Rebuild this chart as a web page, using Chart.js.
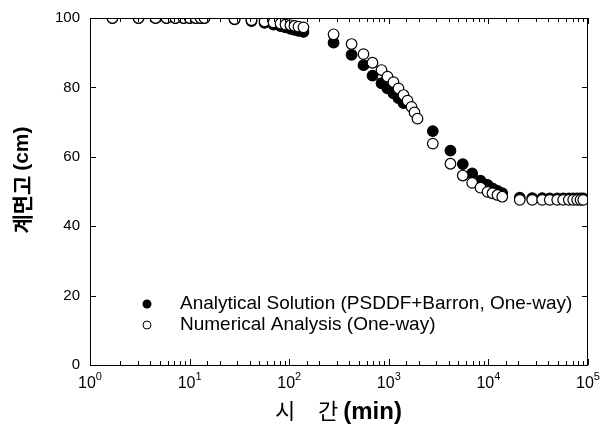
<!DOCTYPE html>
<html>
<head>
<meta charset="utf-8">
<script src="https://cdn.jsdelivr.net/npm/chart.js@4"></script>
<style>
  body { margin: 0; background: #fff; }
  #wrap { width: 601px; height: 439px; }
</style>
</head>
<body>
<div id="wrap"><canvas id="chart" width="601" height="439"></canvas></div>
<script>
// time in minutes, interface height in cm
const analyticalTime = [1.68, 3.07, 4.55, 5.86, 7.2, 8.7, 10, 11.5, 12.9, 14.1,
  28.3, 41.8, 56.6, 69.5, 81.8, 91.8, 103, 113, 124, 139,
  279, 423, 557, 686, 845, 970, 1114, 1251, 1405,
  2766, 4159, 5530, 6873, 8330, 9800, 11000, 12340, 13770,
  20650, 27540, 34670, 41300, 49090, 56360, 64140, 71000, 77850, 84100, 89500];
const analyticalHeight = [100, 100, 100, 100, 100, 100, 100, 100, 100, 100,
  99.6, 99.1, 98.6, 98.1, 97.7, 97.3, 96.9, 96.6, 96.3, 96.0,
  92.9, 89.4, 86.4, 83.4, 81.2, 79.7, 78.3, 76.9, 75.5,
  67.4, 61.8, 57.9, 55.2, 53.1, 51.9, 50.9, 50.2, 49.5,
  48.2, 48.1, 48.1, 48.0, 48.0, 48.0, 48.0, 48.0, 48.0, 48.0, 48.0];

const numericalTime = [1.68, 3.07, 4.55, 5.86, 7.2, 8.7, 10, 11.5, 12.9, 14.1,
  28.3, 41.8, 56.6, 69.5, 81.8, 91.8, 103, 113, 124, 139,
  279, 423, 557, 686, 845, 970, 1114, 1251, 1405, 1541, 1690, 1812, 1942,
  2766, 4159, 5530, 6873, 8330, 9800, 11000, 12340, 13770,
  20650, 27540, 34670, 41300, 49090, 56360, 64140, 71000, 77850, 84100, 89500];
const numericalHeight = [100, 100, 100, 100, 100, 100, 100, 100, 100, 100,
  99.7, 99.4, 99.0, 98.7, 98.4, 98.1, 97.9, 97.7, 97.5, 97.3,
  95.3, 92.5, 89.6, 87.1, 85.0, 83.1, 81.5, 79.7, 77.8, 76.2, 74.4, 72.8, 71.0,
  63.8, 58.0, 54.6, 52.5, 51.1, 49.9, 49.5, 49.0, 48.5,
  47.6, 47.6, 47.6, 47.6, 47.6, 47.6, 47.6, 47.6, 47.6, 47.6, 47.6];

const seriesLabels = ['Analytical Solution (PSDDF+Barron, One-way)', 'Numerical Analysis (One-way)'];
const xTickDecades = [0, 1, 2, 3, 4, 5];
const yTicks = [0, 20, 40, 60, 80, 100];

function toPoints(xs, ys) {
  return xs.map((x, i) => ({ x: x, y: ys[i] }));
}

const LAT = '"Liberation Sans", Arial, sans-serif';
const KR = '"Noto Sans CJK KR", sans-serif';

// frame, inward ticks, x labels, axis titles and legend
const decorations = {
  id: 'decorations',
  afterDatasetsDraw(chart) {
    const ctx = chart.ctx;
    const a = chart.chartArea;
    const xs = chart.scales.x;
    const ys = chart.scales.y;
    ctx.save();
    ctx.strokeStyle = '#000';
    ctx.lineWidth = 1;
    ctx.strokeRect(a.left + 0.5, a.top + 0.5, a.right - a.left - 1, a.bottom - a.top);

    ctx.beginPath();
    xs.ticks.forEach(t => {
      const lg = Math.log10(t.value);
      const major = Math.abs(lg - Math.round(lg)) < 1e-9;
      const len = major ? 6 : 4;
      const px = Math.round(xs.getPixelForValue(t.value)) + 0.5;
      ctx.moveTo(px, a.bottom);
      ctx.lineTo(px, a.bottom - len);
      ctx.moveTo(px, a.top);
      ctx.lineTo(px, a.top + len);
    });
    yTicks.forEach(v => {
      const py = Math.round(ys.getPixelForValue(v)) + 0.5;
      ctx.moveTo(a.left, py);
      ctx.lineTo(a.left + 6, py);
      ctx.moveTo(a.right, py);
      ctx.lineTo(a.right - 6, py);
    });
    ctx.stroke();

    // x tick labels 10^n
    ctx.fillStyle = '#000';
    ctx.textBaseline = 'alphabetic';
    ctx.textAlign = 'left';
    xTickDecades.forEach(d => {
      const px = xs.getPixelForValue(Math.pow(10, d));
      ctx.font = '16px ' + LAT;
      const w1 = ctx.measureText('10').width;
      ctx.font = '11px ' + LAT;
      const w2 = ctx.measureText(String(d)).width;
      const x0 = px - (w1 + w2) / 2;
      ctx.font = '16px ' + LAT;
      ctx.fillText('10', x0, 388);
      ctx.font = '11px ' + LAT;
      ctx.fillText(String(d), x0 + w1, 380);
    });

    // x title
    const cx = (a.left + a.right) / 2;
    const start = cx - 64;
    ctx.textBaseline = 'middle';
    ctx.font = '22px ' + KR;
    ctx.fillText('시', start, 411);
    ctx.fillText('간', start + 43, 411);
    const gw = ctx.measureText('간').width;
    ctx.font = 'bold 24px ' + LAT;
    ctx.fillText('(min)', start + 43 + gw + 5, 412);

    // y title
    ctx.save();
    ctx.translate(22, 180);
    ctx.rotate(-Math.PI / 2);
    const y1 = '계면고 ';
    const y2 = '(cm)';
    ctx.font = 'bold 21px ' + KR;
    const yw1 = ctx.measureText(y1).width;
    ctx.font = 'bold 21px ' + LAT;
    const yw2 = ctx.measureText(y2).width;
    const ys0 = -(yw1 + yw2) / 2;
    ctx.font = 'bold 21px ' + KR;
    ctx.fillText(y1, ys0, 0);
    ctx.font = 'bold 21px ' + LAT;
    ctx.fillText(y2, ys0 + yw1, 0);
    ctx.restore();

    // legend
    ctx.font = '19px ' + LAT;
    ctx.textAlign = 'left';
    ctx.beginPath();
    ctx.arc(147, 304, 4.5, 0, Math.PI * 2);
    ctx.fill();
    ctx.fillText(seriesLabels[0], 180, 304);
    ctx.beginPath();
    ctx.arc(147, 325, 4, 0, Math.PI * 2);
    ctx.lineWidth = 1;
    ctx.stroke();
    ctx.fillText(seriesLabels[1], 180, 325);
    ctx.restore();
  }
};

new Chart(document.getElementById('chart'), {
  type: 'scatter',
  data: {
    datasets: [{
      label: seriesLabels[0],
      data: toPoints(analyticalTime, analyticalHeight),
      order: 1,
      pointRadius: 5.3,
      pointBorderWidth: 1.2,
      pointBackgroundColor: '#000',
      pointBorderColor: '#000'
    }, {
      label: seriesLabels[1],
      data: toPoints(numericalTime, numericalHeight),
      order: 0,
      pointRadius: 5.3,
      pointBorderWidth: 1.2,
      pointBackgroundColor: '#fff',
      pointBorderColor: '#000'
    }]
  },
  options: {
    responsive: false,
    animation: false,
    layout: { padding: { top: 18, right: 13, left: 0, bottom: 0 } },
    plugins: { legend: { display: false }, tooltip: { enabled: false } },
    scales: {
      x: {
        type: 'logarithmic',
        min: 1,
        max: 100000,
        grid: { display: false },
        border: { display: false },
        ticks: { display: false, autoSkip: false },
        afterFit(s) { s.height = 74; }
      },
      y: {
        min: 0,
        max: 100,
        grid: { display: false },
        border: { display: false },
        ticks: {
          stepSize: 20,
          padding: 2,
          color: '#000',
          font: { family: LAT, size: 15 }
        },
        afterFit(s) { s.width = 90; }
      }
    }
  },
  plugins: [decorations]
});
</script>
</body>
</html>
